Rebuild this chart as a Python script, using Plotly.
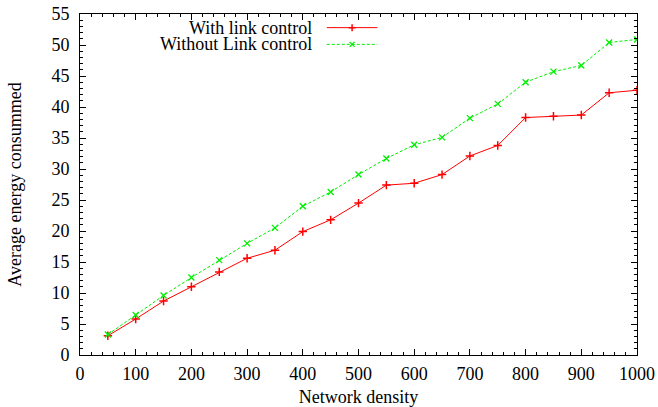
import plotly.graph_objects as go

density = [50, 100, 150, 200, 250, 300, 350, 400, 450, 500,
           550, 600, 650, 700, 750, 800, 850, 900, 950, 1000]
with_link = [3.1, 5.8, 8.7, 11.0, 13.4, 15.6, 16.9, 19.9, 21.8, 24.5,
             27.4, 27.7, 29.1, 32.1, 33.8, 38.3, 38.5, 38.7, 42.3, 42.7]
without_link = [3.3, 6.45, 9.6, 12.5, 15.3, 18.0, 20.5, 24.0, 26.3, 29.1,
                31.7, 33.9, 35.1, 38.2, 40.5, 44.0, 45.7, 46.7, 50.4, 50.9]
names = ["With link control", "Without Link control"]
x_ticks = [0, 100, 200, 300, 400, 500, 600, 700, 800, 900, 1000]
y_ticks = [0, 5, 10, 15, 20, 25, 30, 35, 40, 45, 50, 55]

RED = "#ff0000"
GREEN = "#00ee00"
FONT = "Liberation Serif"
FS = 18

fig = go.Figure()
fig.add_trace(go.Scatter(
    x=density, y=with_link, mode="lines+markers", name=names[0],
    line=dict(color=RED, width=1),
    marker=dict(symbol="cross-thin", size=6, line=dict(color=RED, width=1.5)),
    showlegend=False))
fig.add_trace(go.Scatter(
    x=density, y=without_link, mode="lines+markers", name=names[1],
    line=dict(color=GREEN, width=1, dash="3px,2px"),
    marker=dict(symbol="x-thin", size=6, line=dict(color=GREEN, width=1.3)),
    showlegend=False))

# legend samples on an overlay axis in plot fractions
leg_x = [0.443, 0.534]
leg_y = [0.960, 0.911]
fig.add_trace(go.Scatter(x=leg_x, y=[leg_y[0]] * 2, mode="lines", xaxis="x2", yaxis="y2",
                         line=dict(color=RED, width=1), showlegend=False, hoverinfo="skip"))
fig.add_trace(go.Scatter(x=[sum(leg_x) / 2], y=[leg_y[0]], mode="markers", xaxis="x2", yaxis="y2",
                         marker=dict(symbol="cross-thin", size=5, line=dict(color=RED, width=1.5)),
                         showlegend=False, hoverinfo="skip"))
fig.add_trace(go.Scatter(x=leg_x, y=[leg_y[1]] * 2, mode="lines", xaxis="x2", yaxis="y2",
                         line=dict(color=GREEN, width=1, dash="3px,2px"), showlegend=False, hoverinfo="skip"))
fig.add_trace(go.Scatter(x=[sum(leg_x) / 2], y=[leg_y[1]], mode="markers", xaxis="x2", yaxis="y2",
                         marker=dict(symbol="x-thin", size=5, line=dict(color=GREEN, width=1.3)),
                         showlegend=False, hoverinfo="skip"))
for name, yy in zip(names, leg_y):
    fig.add_annotation(x=0.418, y=yy, xref="x2", yref="y2", text=name, showarrow=False,
                       xanchor="right", yanchor="middle", borderpad=0,
                       font=dict(family=FONT, size=FS, color="black"))

axis_common = dict(
    showline=True, linecolor="black", linewidth=1, mirror="ticks",
    ticks="inside", ticklen=6, tickwidth=1, tickcolor="black",
    showgrid=False, zeroline=False, automargin=False, ticklabeloverflow="allow",
    tickfont=dict(family=FONT, size=FS, color="black"),
)
fig.update_layout(
    width=658, height=407,
    margin=dict(l=80, r=21, t=14, b=52),
    paper_bgcolor="white", plot_bgcolor="white",
    xaxis=dict(range=[0, 1000], tickvals=x_ticks, ticklabelstandoff=2,
               minor=dict(dtick=20, ticklen=3, ticks="inside", tickcolor="black"),
               title=dict(text="Network density", font=dict(family=FONT, size=FS, color="black"), standoff=8),
               **axis_common),
    yaxis=dict(range=[0, 55], tickvals=y_ticks, ticklabelstandoff=6,
               minor=dict(dtick=1, ticklen=3, ticks="inside", tickcolor="black"),
               title=dict(text="Average energy consummed", font=dict(family=FONT, size=FS, color="black"), standoff=25),
               **axis_common),
    xaxis2=dict(range=[0, 1], overlaying="x", visible=False),
    yaxis2=dict(range=[0, 1], overlaying="y", visible=False),
)

fig.write_html("out.html", config={"displayModeBar": False},
               post_script="document.body.style.margin='0';document.body.style.overflow='hidden';")
